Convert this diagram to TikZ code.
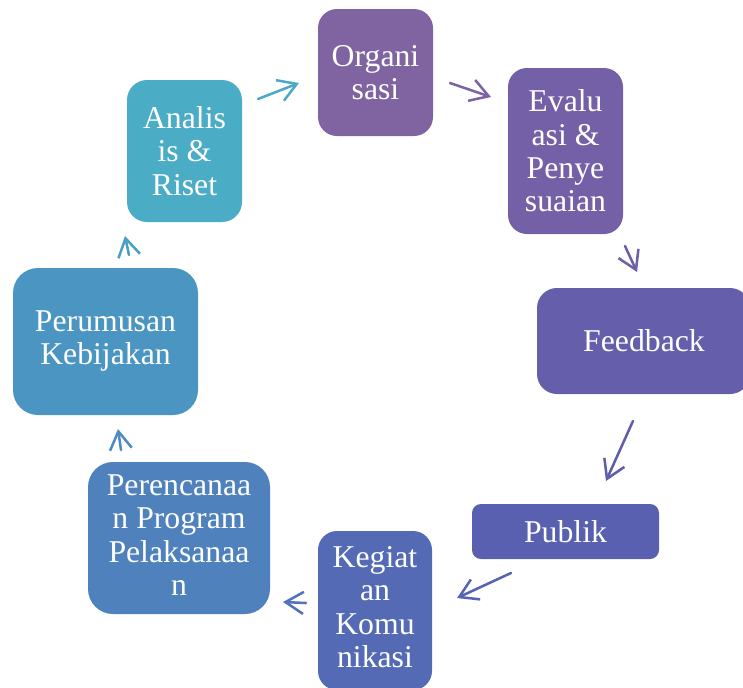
\documentclass[tikz,border=0pt]{standalone}
\usepackage{fontspec}
\setmainfont{Liberation Serif}
\usetikzlibrary{arrows.meta}
\definecolor{cA}{HTML}{4BACC6}
\definecolor{cB}{HTML}{8064A2}
\definecolor{cC}{HTML}{7360A6}
\definecolor{cD}{HTML}{655EAB}
\definecolor{cE}{HTML}{5960B0}
\definecolor{cF}{HTML}{546AB5}
\definecolor{cG}{HTML}{4F81BD}
\definecolor{cH}{HTML}{4A95C2}
\definecolor{aA}{HTML}{4BAAC6}
\definecolor{aB}{HTML}{7D63A4}
\definecolor{aC}{HTML}{6E60A8}
\definecolor{aD}{HTML}{5F5DAE}
\definecolor{aE}{HTML}{5763B3}
\definecolor{aF}{HTML}{5273B9}
\definecolor{aG}{HTML}{4D8BC0}
\definecolor{aH}{HTML}{4AA0C4}
\tikzset{
  box/.style={text=white, align=center, inner sep=0pt,
    font=\fontsize{23.8}{25}\selectfont},
  cyc/.style={draw=#1, line width=1.9pt, line cap=round,
    -{Straight Barb[length=13.5pt,width=16.5pt,line width=1.9pt]}}
}
\begin{document}
\begin{tikzpicture}[x=0.75pt,y=-0.75pt]
\useasboundingbox (0,0) rectangle (743,687);
% boxes
\fill[cA, rounded corners=20*0.75pt] (127,80) rectangle (242,222);
\node[box] (analis) at (184.5,151) {Analis\\is \&\\Riset};
\fill[cB, rounded corners=19*0.75pt] (318,9) rectangle (433,136);
\node[box] (organi) at (375.5,72.5) {Organi\\sasi};
\fill[cC, rounded corners=19*0.75pt] (508,68) rectangle (623,234);
\node[box] (evalu) at (565.5,151) {Evalu\\asi \&\\Penye\\suaian};
\fill[cD, rounded corners=20*0.75pt] (537,288) rectangle (750,394);
\node[box] (feedback) at (644,341) {Feedback};
\fill[cE, rounded corners=9*0.75pt] (472,504) rectangle (659,559);
\node[box] (publik) at (565.5,531.5) {Publik};
\fill[cF, rounded corners=19*0.75pt] (318,531) rectangle (432,690);
\node[box] (kegiat) at (375,607) {Kegiat\\an\\Komu\\nikasi};
\fill[cG, rounded corners=25*0.75pt] (88,462) rectangle (270,614);
\node[box] (perenc) at (179,535) {Perencanaa\\n Program\\Pelaksanaa\\n};
\fill[cH, rounded corners=25*0.75pt] (13,268) rectangle (198,415);
\node[box] (perum) at (105.5,341) {Perumusan\\Kebijakan};
% arrow end points
\coordinate (s1) at (258,99);   \coordinate (e1) at (299,83);
\coordinate (s2) at (450,83);   \coordinate (e2) at (491,97);
\coordinate (s3) at (625,246);  \coordinate (e3) at (637,272);
\coordinate (s4) at (633,421);  \coordinate (e4) at (606,481);
\coordinate (s5) at (511,573);  \coordinate (e5) at (457,598);
\coordinate (s6) at (306,603);  \coordinate (e6) at (283,602);
\coordinate (s7) at (121,450);  \coordinate (e7) at (118,429);
\coordinate (s8) at (129,255);  \coordinate (e8) at (125,236);
\draw[cyc=aA] (s1) -- (e1);
\draw[cyc=aB] (s2) -- (e2);
\draw[cyc=aC] (s3) -- (e3);
\draw[cyc=aD] (s4) -- (e4);
\draw[cyc=aE] (s5) -- (e5);
\draw[cyc=aF] (s6) -- (e6);
\draw[cyc=aG] (s7) -- (e7);
\draw[cyc=aH] (s8) -- (e8);
\end{tikzpicture}
\end{document}
